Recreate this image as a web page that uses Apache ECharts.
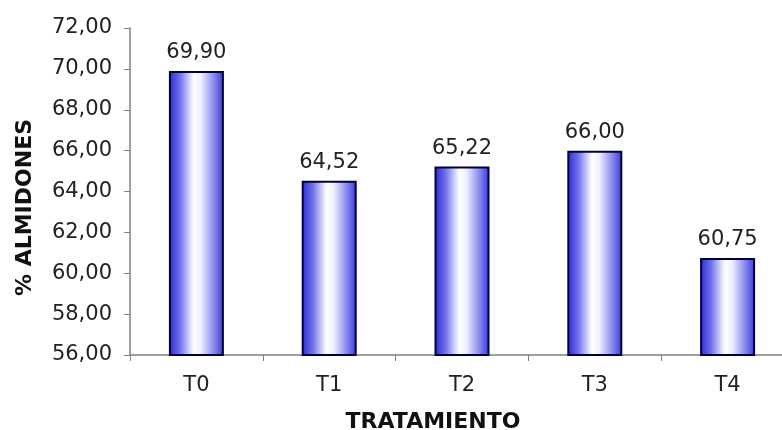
<!DOCTYPE html>
<html>
<head>
<meta charset="utf-8">
<script src="https://cdn.jsdelivr.net/npm/echarts@6/dist/echarts.min.js"></script>
<style>
  html, body { margin: 0; padding: 0; background: #fff; }
  #chart { width: 782px; height: 430px; }
</style>
</head>
<body>
<div id="chart"></div>
<script>
// datos del gráfico
const categorias = ['T0', 'T1', 'T2', 'T3', 'T4'];
const almidones = [69.90, 64.52, 65.22, 66.00, 60.75];

// ejes
const yMin = 56;
const yMax = 72;
const yPaso = 2;

// formato con coma decimal
function coma(v) {
    return Number(v).toFixed(2).replace('.', ',');
}

function initChart() {
    const chart = echarts.init(document.getElementById('chart'));

    const barColor = new echarts.graphic.LinearGradient(0, 0, 1, 0, [
        { offset: 0, color: '#2828cc' },
        { offset: 0.2, color: '#7070ec' },
        { offset: 0.45, color: '#ffffff' },
        { offset: 0.58, color: '#f0f0ff' },
        { offset: 0.85, color: '#7a7aec' },
        { offset: 1, color: '#3636d4' }
    ]);

    const option = {
        backgroundColor: '#ffffff',
        animation: false,
        textStyle: {
            fontFamily: 'DejaVu Sans'
        },
        grid: {
            left: 130,
            top: 28,
            bottom: 75,
            right: -12,
            outerBoundsMode: 'none',
            containLabel: false
        },
        xAxis: {
            type: 'category',
            data: categorias,
            name: 'TRATAMIENTO',
            nameLocation: 'middle',
            nameGap: 56,
            nameTextStyle: {
                fontSize: 22,
                fontWeight: 'bold',
                color: '#111',
                padding: [0, 58, 0, 0]
            },
            axisLine: { lineStyle: { color: '#808080', width: 1.5 } },
            axisTick: { show: true, length: 6, lineStyle: { color: '#808080' } },
            axisLabel: {
                margin: 20,
                fontSize: 21,
                color: '#222'
            }
        },
        yAxis: {
            type: 'value',
            min: yMin,
            max: yMax,
            interval: yPaso,
            name: '% ALMIDONES',
            nameLocation: 'middle',
            nameGap: 94,
            nameRotate: 90,
            nameTextStyle: {
                fontSize: 22,
                fontWeight: 'bold',
                color: '#111',
                padding: [0, 32, 0, 0]
            },
            splitLine: { show: false },
            axisLine: { show: true, lineStyle: { color: '#808080', width: 1.5 } },
            axisTick: { show: true, length: 6, lineStyle: { color: '#808080' } },
            axisLabel: {
                margin: 18,
                fontSize: 21,
                color: '#222',
                formatter: coma
            }
        },
        series: [
            {
                type: 'bar',
                data: almidones,
                barWidth: 55,
                itemStyle: {
                    color: barColor,
                    borderColor: '#000044',
                    borderWidth: 2
                },
                label: {
                    show: true,
                    position: 'top',
                    distance: 8,
                    fontSize: 21,
                    color: '#222',
                    formatter: function (p) {
                        return coma(p.value);
                    }
                }
            }
        ]
    };

    chart.setOption(option);
}

window.addEventListener('DOMContentLoaded', initChart);
</script>
</body>
</html>
